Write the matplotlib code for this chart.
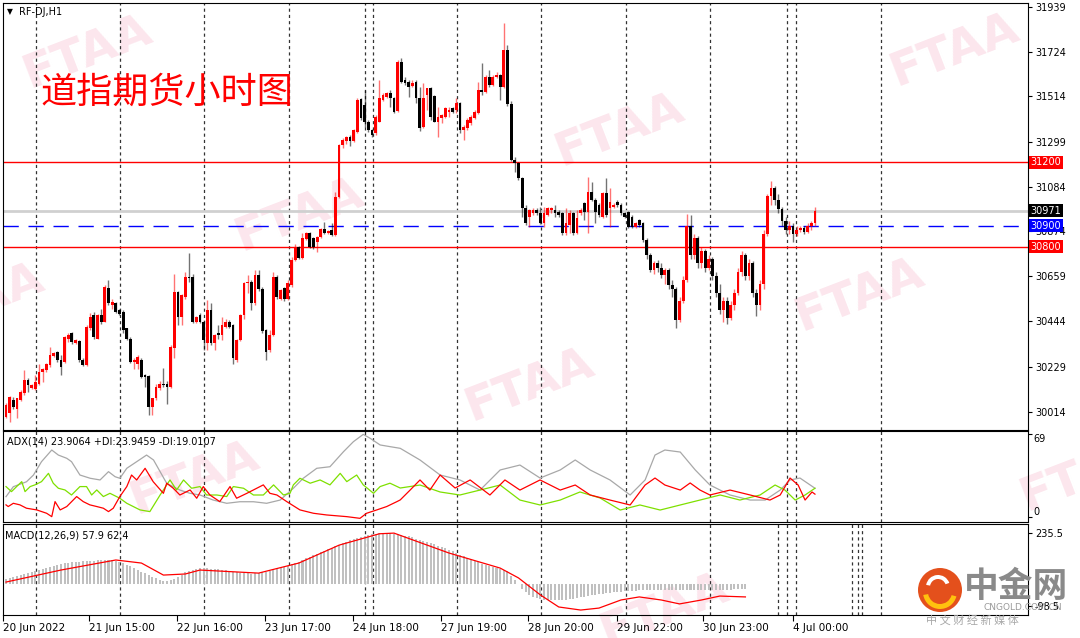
#!/usr/bin/env python3
"""Dow futures H1 chart in MT4 style: candles, key levels, ADX and MACD panes."""

import matplotlib
matplotlib.use("Agg")
import matplotlib.pyplot as plt
from matplotlib.patches import Rectangle, Circle, Wedge

# ---------------- data ----------------
OPEN = [
    29991, 30007, 30070, 30030, 30070, 30102, 30165, 30130, 30125, 30149,
    30205, 30213, 30236, 30280, 30300, 30260, 30252, 30363, 30387, 30343,
    30352, 30263, 30236, 30411, 30474, 30363, 30474, 30442, 30601, 30522,
    30530, 30498, 30490, 30411, 30363, 30252, 30244, 30260, 30189, 30184,
    30038, 30078, 30126, 30149, 30149, 30134, 30316, 30585, 30466, 30560,
    30657, 30657, 30443, 30474, 30443, 30340, 30498, 30340, 30387, 30379,
    30419, 30443, 30427, 30260, 30356, 30474, 30625, 30633, 30530, 30665,
    30600, 30403, 30308, 30379, 30657, 30553, 30601, 30553, 30617, 30736,
    30799, 30744, 30835, 30863, 30839, 30823, 30847, 30882, 30866, 30879,
    30855, 31037, 31283, 31300, 31319, 31300, 31346, 31500, 31473, 31394,
    31354, 31338, 31394, 31497, 31513, 31528, 31505, 31445, 31679, 31592,
    31584, 31565, 31584, 31505, 31370, 31520, 31552, 31516, 31394, 31410,
    31417, 31441, 31457, 31449, 31481, 31354, 31362, 31386, 31410, 31433,
    31544, 31535, 31608, 31568, 31608, 31616, 31560, 31734, 31480, 31211,
    31196, 31124, 30982, 30942, 30958, 30974, 30958, 30913, 30950, 30974,
    30974, 30966, 30958, 30863, 30902, 30958, 30863, 30958, 31006, 30966,
    31061, 31021, 30998, 30942, 31053, 30982, 30990, 31012, 30998, 30958,
    30966, 30942, 30895, 30926, 30910, 30831, 30760, 30690, 30720, 30700,
    30665, 30690, 30615, 30600, 30450, 30540, 30640, 30900, 30760, 30840,
    30720, 30780, 30700, 30740, 30660, 30580, 30500, 30540, 30460, 30520,
    30580, 30680, 30760, 30660, 30720, 30580, 30520, 30620, 30860, 31040,
    31080, 31020, 30980, 30920, 30880, 30900, 30860, 30880, 30890, 30870,
    30900, 30910,
]
HIGH = [
    30054, 30090, 30086, 30080, 30118, 30213, 30173, 30145, 30189, 30244,
    30225, 30245, 30324, 30300, 30305, 30284, 30375, 30390, 30395, 30360,
    30355, 30270, 30425, 30485, 30490, 30478, 30501, 30615, 30641, 30549,
    30535, 30505, 30498, 30415, 30368, 30268, 30284, 30268, 30195, 30189,
    30080, 30149, 30160, 30221, 30160, 30330, 30672, 30590, 30575, 30680,
    30768, 30672, 30470, 30482, 30450, 30546, 30530, 30385, 30427, 30466,
    30455, 30450, 30432, 30363, 30480, 30633, 30665, 30640, 30688, 30691,
    30610, 30410, 30403, 30680, 30665, 30600, 30610, 30640, 30752, 30810,
    30805, 30866, 30870, 30870, 30845, 30850, 30890, 30918, 30880, 30913,
    31061, 31290, 31314, 31325, 31330, 31360, 31505, 31505, 31544, 31400,
    31360, 31425, 31592, 31530, 31535, 31544, 31510, 31687, 31695, 31608,
    31590, 31590, 31592, 31560, 31580, 31556, 31560, 31520, 31465, 31430,
    31462, 31465, 31462, 31505, 31486, 31378, 31410, 31425, 31450, 31584,
    31671, 31615, 31639, 31615, 31632, 31622, 31861, 31758, 31490, 31227,
    31200, 31130, 30998, 30980, 30982, 30982, 30990, 30990, 30990, 30990,
    30998, 30975, 30965, 30982, 30974, 30965, 30974, 30982, 31012, 31132,
    31108, 31030, 31005, 31060, 31124, 31077, 31005, 31020, 31005, 30965,
    30970, 30950, 30915, 30930, 30915, 30840, 30770, 30730, 30735, 30720,
    30700, 30700, 30640, 30610, 30560, 30660, 30955, 30950, 30860, 30850,
    30800, 30790, 30760, 30750, 30680, 30620, 30560, 30560, 30540, 30600,
    30700, 30780, 30770, 30740, 30730, 30600, 30640, 30880, 31050, 31110,
    31090, 31050, 30990, 30940, 30920, 30910, 30900, 30900, 30900, 30910,
    30920, 30990,
]
LOW = [
    29983, 29965, 30030, 29983, 30065, 30094, 30110, 30125, 30118, 30141,
    30157, 30205, 30228, 30276, 30252, 30189, 30245, 30347, 30339, 30335,
    30252, 30230, 30232, 30405, 30363, 30360, 30434, 30440, 30522, 30501,
    30482, 30474, 30387, 30355, 30245, 30220, 30220, 30175, 30134, 29999,
    29999, 30070, 30120, 30134, 30050, 30130, 30268, 30427, 30427, 30550,
    30633, 30435, 30435, 30435, 30308, 30308, 30332, 30308, 30363, 30356,
    30415, 30415, 30244, 30252, 30350, 30458, 30577, 30498, 30520, 30590,
    30390, 30260, 30300, 30375, 30550, 30545, 30540, 30545, 30610, 30730,
    30740, 30740, 30830, 30792, 30790, 30776, 30840, 30860, 30860, 30850,
    30850, 31030, 31270, 31290, 31280, 31295, 31340, 31400, 31370, 31345,
    31320, 31330, 31390, 31490, 31505, 31465, 31436, 31440, 31578, 31568,
    31513, 31560, 31481, 31350, 31365, 31450, 31402, 31390, 31322, 31386,
    31410, 31417, 31436, 31433, 31340, 31306, 31355, 31380, 31405, 31428,
    31520, 31530, 31560, 31563, 31600, 31497, 31555, 31470, 31205, 31156,
    31116, 30942, 30902, 30895, 30950, 30950, 30905, 30895, 30945, 30958,
    30942, 30940, 30855, 30855, 30863, 30855, 30858, 30950, 30926, 30863,
    31015, 30910, 30942, 30935, 30942, 30895, 30985, 30990, 30950, 30935,
    30890, 30890, 30890, 30895, 30820, 30740, 30680, 30670, 30680, 30650,
    30620, 30600, 30560, 30413, 30440, 30530, 30630, 30740, 30740, 30700,
    30700, 30680, 30690, 30640, 30560, 30480, 30440, 30430, 30450, 30500,
    30570, 30660, 30640, 30640, 30560, 30470, 30500, 30600, 30850, 31000,
    31000, 30960, 30900, 30860, 30860, 30820, 30850, 30870, 30860, 30865,
    30880, 30900,
]
CLOSE = [
    30046, 30086, 30038, 30078, 30110, 30165, 30141, 30141, 30157, 30205,
    30220, 30240, 30284, 30292, 30260, 30228, 30371, 30379, 30347, 30355,
    30263, 30236, 30419, 30466, 30371, 30474, 30442, 30609, 30530, 30538,
    30490, 30479, 30403, 30363, 30252, 30263, 30273, 30181, 30181, 30038,
    30078, 30134, 30149, 30141, 30134, 30324, 30585, 30466, 30569, 30657,
    30649, 30443, 30466, 30443, 30356, 30498, 30340, 30379, 30379, 30427,
    30443, 30419, 30268, 30356, 30474, 30625, 30633, 30530, 30665, 30600,
    30400, 30300, 30379, 30657, 30562, 30593, 30553, 30625, 30736, 30799,
    30744, 30839, 30863, 30799, 30799, 30844, 30882, 30866, 30874, 30855,
    31037, 31283, 31307, 31319, 31300, 31354, 31497, 31410, 31394, 31354,
    31330, 31417, 31505, 31521, 31528, 31505, 31441, 31679, 31584, 31576,
    31560, 31580, 31505, 31362, 31505, 31552, 31417, 31394, 31417, 31425,
    31457, 31449, 31441, 31481, 31354, 31370, 31402, 31417, 31441, 31544,
    31535, 31608, 31568, 31608, 31616, 31560, 31734, 31480, 31211, 31196,
    31124, 30982, 30910, 30974, 30974, 30958, 30913, 30958, 30982, 30982,
    30958, 30950, 30863, 30910, 30958, 30863, 30934, 30974, 30966, 31061,
    31021, 30966, 30950, 31053, 30950, 31012, 30998, 30998, 30958, 30942,
    30895, 30895, 30910, 30902, 30831, 30760, 30690, 30720, 30700, 30665,
    30690, 30615, 30600, 30450, 30540, 30640, 30900, 30760, 30840, 30720,
    30780, 30700, 30740, 30660, 30580, 30500, 30540, 30460, 30520, 30580,
    30680, 30760, 30660, 30720, 30580, 30520, 30620, 30860, 31040, 31080,
    31020, 30980, 30920, 30880, 30900, 30860, 30880, 30890, 30870, 30900,
    30910, 30971,
]

PRICE_TICKS = [31939, 31724, 31514, 31299, 31084, 30874, 30659, 30444, 30229, 30014]
RED_LEVELS = [31200, 30800]
BLUE_LEVEL = 30900
LAST_PRICE = 30971

# day separators, in bar units
SEPARATORS = [8.2, 31.1, 54.1, 77.3, 98.1, 100.3, 123.2, 146.2, 169.4, 192.3,
              213.4, 215.8, 239.1]
MACD_EXTRA_SEPARATORS = [210.9, 231.1, 232.8, 233.9]

TIME_LABELS = ["20 Jun 2022", "21 Jun 15:00", "22 Jun 16:00", "23 Jun 17:00",
               "24 Jun 18:00", "27 Jun 19:00", "28 Jun 20:00", "29 Jun 22:00",
               "30 Jun 23:00", "4 Jul 00:00"]
TIME_BARS = [-0.8, 22.7, 46.7, 70.8, 94.8, 118.9, 142.6, 166.9, 190.4, 215.0]

# ADX(14): main line, +DI, -DI as (bar, value) vertices
ADX_X = [0, 2.0, 5.6, 7.5, 9.7, 12.5, 14.3, 16.6, 17.9, 20.2, 23.0, 25.7, 28.0,
         29.8, 31.1, 33.0, 35.7, 38.4, 40.3, 42.1, 43.9, 47.5, 50.3, 53.0, 56.6,
         60.3, 63.9, 67.6, 71.2, 74.9, 78.5, 81.2, 84.9, 88.5, 92.2, 94.9, 97.6,
         99.5, 102.2, 104.9, 107.7, 113.1, 118.6, 124.0, 129.5, 135.0, 140.4,
         145.9, 151.4, 155.5, 159.6, 165.0, 170.5, 174.6, 177.3, 180.0, 184.2,
         188.3, 192.3, 197.8, 203.3, 207.4, 211.5, 214.2, 216.9, 219.7, 221.0]
ADX_Y = [16.9, 25.2, 29.3, 34.9, 46.0, 55.7, 51.5, 48.8, 46.0, 34.9, 32.2, 30.8,
         37.7, 33.5, 32.2, 40.5, 46.0, 51.5, 47.4, 37.7, 28.0, 22.4, 19.7, 18.3,
         14.1, 11.4, 12.7, 12.7, 11.4, 14.1, 23.9, 32.2, 40.5, 41.8, 54.3, 62.6,
         68.7, 65.4, 59.9, 58.5, 57.1, 47.4, 34.9, 30.8, 22.4, 39.1, 43.2, 32.4,
         39.1, 47.4, 39.1, 30.8, 18.3, 30.8, 51.5, 55.7, 54.0, 39.1, 26.6, 18.3,
         14.1, 14.1, 22.4, 30.8, 32.4, 26.6, 23.9]
PDI_X = [0, 1.5, 2.9, 4.3, 5.2, 6.6, 7.9, 9.7, 11.6, 12.9, 14.3, 16.1, 17.9,
         20.2, 22.0, 23.4, 24.8, 26.6, 28.4, 31.1, 33.0, 36.6, 39.3, 42.1, 44.8,
         46.6, 48.5, 50.7, 53.0, 54.8, 57.6, 60.3, 62.1, 64.9, 67.6, 70.3, 73.1,
         75.8, 77.6, 78.5, 80.3, 83.1, 85.8, 88.5, 91.3, 93.1, 95.8, 97.6, 100.4,
         102.2, 104.9, 107.7, 113.1, 118.6, 124.0, 129.5, 135.0, 140.4, 145.9,
         151.4, 156.8, 162.3, 167.8, 173.2, 178.7, 184.2, 189.6, 195.1, 200.5,
         206.0, 210.1, 212.8, 215.6, 218.3, 221.0]
PDI_Y = [25.3, 21.1, 25.3, 29.4, 21.1, 25.3, 26.7, 29.4, 36.3, 28.1, 23.9, 22.5,
         18.3, 25.3, 25.3, 18.3, 22.5, 17.0, 19.7, 15.6, 11.4, 5.9, 4.5, 18.3,
         30.8, 22.5, 30.8, 23.9, 25.3, 18.3, 18.3, 17.0, 25.3, 23.9, 18.3, 18.3,
         26.7, 18.3, 19.7, 26.7, 32.2, 28.1, 30.8, 26.7, 36.3, 29.4, 34.9, 26.7,
         19.7, 25.3, 28.1, 24.1, 26.6, 20.8, 18.3, 22.4, 26.6, 14.1, 10.0, 14.1,
         20.8, 15.8, 5.8, 10.0, 5.8, 10.0, 14.1, 18.3, 14.1, 18.3, 26.6, 22.4,
         14.1, 18.3, 23.9]
MDI_X = [0, 0.6, 2.0, 3.8, 5.6, 8.4, 11.1, 12.5, 13.4, 14.8, 16.6, 19.3, 21.1,
         22.9, 24.8, 26.6, 28.0, 29.3, 31.1, 33.0, 34.3, 35.7, 38.0, 40.2, 43.0,
         43.9, 45.7, 47.5, 50.3, 52.1, 53.9, 55.7, 58.4, 61.2, 63.0, 65.8, 67.6,
         70.3, 72.1, 74.0, 76.7, 80.3, 84.0, 87.6, 93.1, 96.7, 98.5, 101.3, 104.0,
         106.8, 107.7, 110.4, 113.1, 115.8, 118.6, 122.7, 126.8, 132.2, 136.3,
         140.4, 145.9, 151.4, 155.5, 159.6, 165.0, 170.5, 174.6, 177.3, 180.0,
         184.2, 186.9, 189.6, 192.3, 197.8, 203.3, 208.7, 211.5, 214.2, 216.4,
         218.3, 220.2, 221.0]
MDI_Y = [10.1, 8.7, 11.4, 10.1, 7.3, 5.9, 3.1, 0.3, 12.8, 5.9, 8.7, 17.0, 12.8,
         10.1, 8.7, 7.3, 4.5, 7.3, 17.0, 25.3, 34.9, 30.8, 40.5, 29.4, 19.7,
         28.1, 23.9, 18.3, 22.5, 15.6, 25.3, 18.3, 12.8, 25.3, 15.6, 19.7, 22.5,
         26.7, 19.7, 18.3, 12.8, 5.9, 3.1, 1.7, 0.3, -1.1, 3.1, 5.9, 8.7, 12.8,
         14.2, 22.4, 30.8, 22.4, 34.9, 24.1, 30.8, 18.3, 30.8, 22.4, 30.8, 22.4,
         26.6, 18.3, 14.1, 10.0, 26.6, 32.4, 26.6, 22.4, 28.3, 22.4, 18.3, 22.4,
         18.3, 14.1, 18.3, 32.4, 26.6, 14.1, 20.8, 19.0]

# MACD(12,26,9): histogram per bar, signal line vertices
MACD_HIST = [
    25, 30, 35, 40, 45, 50, 54, 58, 62, 66,
    70, 75, 80, 85, 90, 95, 97, 99, 101, 103,
    105, 106, 107, 108, 109, 110, 112, 112, 111, 110,
    108, 103, 97, 90, 83, 75, 67, 59, 51, 43,
    35, 28, 21, 15, 17, 21, 25, 35, 45, 55,
    60, 65, 70, 75, 75, 74, 73, 72, 70, 67,
    64, 61, 58, 55, 53, 52, 51, 50, 51, 53,
    55, 57, 60, 65, 70, 75, 80, 86, 92, 98,
    105, 112, 119, 126, 133, 140, 147, 154, 161, 168,
    175, 182, 189, 196, 203, 210, 214, 218, 222, 226,
    230, 232, 234, 235, 235, 234, 232, 229, 226, 223,
    220, 215, 210, 205, 200, 195, 189, 183, 177, 171,
    165, 158, 151, 144, 137, 130, 123, 116, 109, 102,
    95, 90, 85, 80, 75, 70, 65, 60, 40, 20,
    0, -20, -35, -50, -56, -62, -68, -69, -70, -71,
    -72, -72, -71, -69, -67, -65, -62, -59, -56, -53,
    -50, -48, -45, -43, -40, -38, -36, -35, -33, -31,
    -30, -29, -28, -27, -27, -26, -26, -26, -25, -25,
    -25, -25, -25, -24, -24, -24, -24, -24, -24, -24,
    -24, -24, -25, -25, -25, -25, -25, -24, -24, -23,
    -23, -22, -22,
]
SIGNAL_X = [0, 15, 30, 37, 43, 49, 53, 69, 80, 91, 102, 106, 121, 135, 140, 146,
            151, 157, 162, 168, 173, 179, 184, 190, 195, 202]
SIGNAL_Y = [11, 66, 112, 98, 43, 48, 66, 52, 98, 180, 232, 235, 144, 75, 30, -48,
            -103, -117, -108, -71, -57, -71, -89, -71, -53, -57]

BULL, BEAR = "#ff0000", "#000000"
W, H = 1080, 638


def frame(top, bottom, left=3, right=1028):
    return [left / W, 1 - bottom / H, (right - left) / W, (bottom - top) / H]


def px(x, y):
    return x / W, 1 - y / H


def draw_candles(ax):
    for i, (o, h, l, c) in enumerate(zip(OPEN, HIGH, LOW, CLOSE)):
        col = BULL if c >= o else BEAR
        ax.vlines(i, l, h, color=col, lw=1, alpha=0.55, zorder=3)
        ax.add_patch(Rectangle((i - 0.38, min(o, c)), 0.76, max(abs(c - o), 4),
                               facecolor=col, edgecolor="none", zorder=4))


def separators(ax, extra=()):
    for s in list(SEPARATORS) + list(extra):
        ax.axvline(s, color="#333333", lw=0.9, ls=(0, (2.5, 2.5)), zorder=1)


def style(ax):
    ax.set_facecolor("none")
    for sp in ax.spines.values():
        sp.set_color("#000000")
        sp.set_linewidth(0.8)
    ax.yaxis.tick_right()
    ax.tick_params(axis="y", length=3, pad=2, labelsize=7, colors="#000000")
    ax.set_xlim(-0.82, 279.2)


fig = plt.figure(figsize=(W / 100, H / 100), dpi=100, facecolor="white")

# FTAA watermarks behind everything
for wx, wy in [(88, 52), (-20, 300), (300, 215), (620, 130), (955, 50), (530, 385),
               (860, 295), (195, 478), (1085, 475), (665, 610)]:
    fig.text(*px(wx, wy), "FTAA", fontsize=34, fontweight="bold", color="#fce6ed",
             rotation=21, ha="center", va="center", zorder=-1)

ax = fig.add_axes(frame(3, 430))
ax_adx = fig.add_axes(frame(431, 522))
ax_macd = fig.add_axes(frame(524, 615))
for a in (ax, ax_adx, ax_macd):
    style(a)

# ---- main price pane ----
separators(ax)
for lv in RED_LEVELS:
    ax.axhline(lv, color="#ff0000", lw=1, zorder=2)
ax.axhline(BLUE_LEVEL, color="#0000ff", lw=1, ls=(0, (11, 7)), zorder=2)
ax.axhline(LAST_PRICE, color="#d0d0d0", lw=2, zorder=1)
draw_candles(ax)
ax.set_ylim(29928, 31958)
ax.set_yticks(PRICE_TICKS)
ax.set_yticklabels([str(v) for v in PRICE_TICKS])
ax.set_xticks([])
for val, bg in [(31200, "#ff0000"), (LAST_PRICE, "#000000"), (BLUE_LEVEL, "#0000ff"),
                (30800, "#ff0000")]:
    ax.text(1.0025, val, str(val), transform=ax.get_yaxis_transform(), color="white",
            fontsize=7, va="center", ha="left", zorder=10,
            bbox=dict(boxstyle="square,pad=0.18", facecolor=bg, edgecolor="none"))

fig.text(*px(7, 12), "▼", fontsize=5.5, va="center", ha="left")
fig.text(*px(19, 12), "RF-DJ,H1", fontsize=7, va="center", ha="left")
fig.text(*px(40, 93), "道指期货小时图", fontsize=26, color="#ff0000", va="center",
         ha="left", fontweight="light", family=["Noto Sans CJK SC", "DejaVu Sans"])

# ---- ADX pane ----
separators(ax_adx)
ax_adx.plot(ADX_X, ADX_Y, color="#a8a8a8", lw=0.9, zorder=3)
ax_adx.plot(PDI_X, PDI_Y, color="#7ee000", lw=0.9, zorder=3)
ax_adx.plot(MDI_X, MDI_Y, color="#ff0000", lw=0.9, zorder=4)
ax_adx.set_ylim(-4.15, 71.5)
ax_adx.set_yticks([69, 0])
ax_adx.set_yticklabels([])
ax_adx.set_xticks([])
ax_adx.text(1.005, 69, "69", transform=ax_adx.get_yaxis_transform(), fontsize=7,
            va="top", ha="left")
ax_adx.text(1.005, 0, "0", transform=ax_adx.get_yaxis_transform(), fontsize=7,
            va="bottom", ha="left")
fig.text(*px(7, 441), "ADX(14) 23.9064 +DI:23.9459 -DI:19.0107", fontsize=7,
         va="center", ha="left")

# ---- MACD pane ----
separators(ax_macd, MACD_EXTRA_SEPARATORS)
ax_macd.bar(range(len(MACD_HIST)), MACD_HIST, width=0.55, color="#c0c0c0", zorder=2)
ax_macd.plot(SIGNAL_X, SIGNAL_Y, color="#ff0000", lw=0.9, zorder=3)
ax_macd.set_ylim(-139.7, 276.7)
ax_macd.set_yticks([235.5, -98.5])
ax_macd.set_yticklabels(["235.5", "-98.5"])
ax_macd.set_xticks(TIME_BARS)
ax_macd.set_xticklabels(TIME_LABELS, ha="left", fontsize=7.5)
ax_macd.tick_params(axis="x", length=4, pad=2)
fig.text(*px(5, 535), "MACD(12,26,9) 57.9 62.4", fontsize=7, va="center", ha="left")

# ---- cngold logo, bottom right ----
cx, cy = 940 / 100, (H - 590) / 100
fig.add_artist(Circle((cx, cy), 0.22, transform=fig.dpi_scale_trans,
                      facecolor="#e4501c", edgecolor="none", zorder=20))
fig.add_artist(Wedge((cx, cy - 0.02), 0.17, 190, 345, width=0.05,
                     transform=fig.dpi_scale_trans, facecolor="#ffc20e",
                     edgecolor="none", zorder=21))
fig.add_artist(Wedge((cx - 0.02, cy + 0.03), 0.12, 20, 170, width=0.04,
                     transform=fig.dpi_scale_trans, facecolor="white",
                     edgecolor="none", zorder=21))
fig.text(*px(964, 586), "中金网", fontsize=25, fontweight="bold", color="#8a8a8a",
         va="center", ha="left", family=["Noto Sans CJK SC"], zorder=22)
fig.text(*px(983, 607), "CNGOLD.COM.CN", fontsize=6.5, color="#9a9a9a",
         va="center", ha="left", zorder=22)
fig.text(*px(926, 620), "中 文 财 经 新 媒 体", fontsize=8, color="#a8a8a8",
         va="center", ha="left", family=["Noto Sans CJK SC"], zorder=22)

fig.savefig("out.png", dpi=100, facecolor="white")
